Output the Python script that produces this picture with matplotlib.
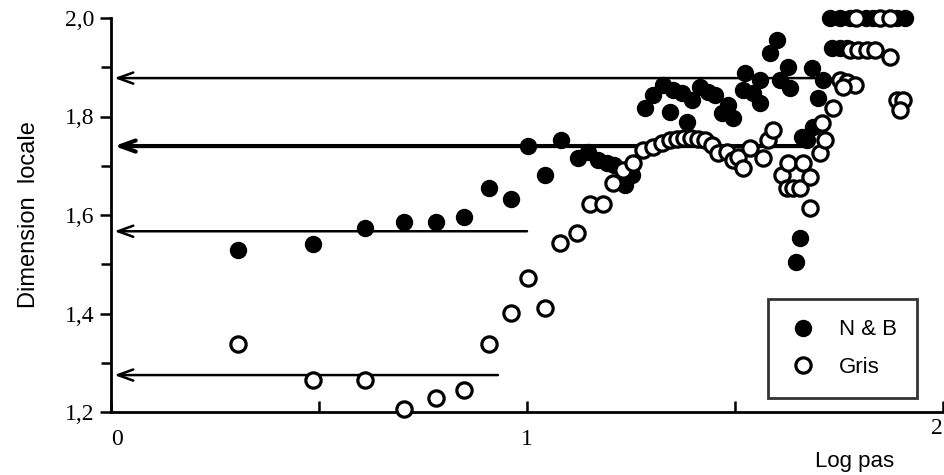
import matplotlib
matplotlib.use("Agg")
import matplotlib.pyplot as plt
from matplotlib.ticker import MultipleLocator, FixedLocator

# ---- data ----
nb_x = [0.305, 0.486, 0.611, 0.704, 0.781, 0.849, 0.909, 0.962, 1.002, 1.043,
        1.082, 1.123, 1.147, 1.171, 1.192, 1.209, 1.236, 1.252, 1.284, 1.303,
        1.327, 1.351, 1.373, 1.397, 1.416, 1.435, 1.452, 1.344, 1.385, 1.469,
        1.483, 1.495, 1.519, 1.524, 1.543, 1.560, 1.584, 1.601, 1.627, 1.632,
        1.608, 1.685, 1.700, 1.712, 1.688, 1.673, 1.661, 1.656, 1.647, 1.560,
        1.728, 1.752, 1.776, 1.815, 1.832, 1.889, 1.909,
        1.733, 1.752, 1.769]
nb_y = [1.529, 1.541, 1.574, 1.586, 1.586, 1.596, 1.655, 1.632, 1.740, 1.681,
        1.752, 1.716, 1.728, 1.712, 1.706, 1.702, 1.661, 1.681, 1.817, 1.844,
        1.864, 1.854, 1.848, 1.834, 1.860, 1.850, 1.844, 1.809, 1.789, 1.807,
        1.823, 1.797, 1.854, 1.888, 1.848, 1.874, 1.929, 1.955, 1.900, 1.858,
        1.874, 1.898, 1.838, 1.874, 1.779, 1.752, 1.758, 1.553, 1.505, 1.827,
        2.000, 2.000, 2.000, 2.000, 2.000, 2.000, 2.000,
        1.939, 1.939, 1.939]

gris_x = [0.305, 0.486, 0.611, 0.704, 0.781, 0.849, 0.909, 0.962, 1.002, 1.043,
          1.079, 1.120, 1.151, 1.183, 1.207, 1.231, 1.255, 1.279, 1.303, 1.325,
          1.344, 1.361, 1.377, 1.394, 1.411, 1.428, 1.445, 1.459, 1.481, 1.495,
          1.507, 1.519, 1.536, 1.567, 1.579, 1.591, 1.613, 1.627, 1.625, 1.639,
          1.656, 1.663, 1.680, 1.680, 1.704, 1.716, 1.709, 1.736, 1.752, 1.769,
          1.788, 1.760, 1.776, 1.796, 1.817, 1.837, 1.873, 1.791, 1.849, 1.873,
          1.889, 1.904, 1.897]
gris_y = [1.338, 1.265, 1.265, 1.206, 1.228, 1.245, 1.338, 1.401, 1.472, 1.411,
          1.543, 1.563, 1.622, 1.622, 1.665, 1.691, 1.706, 1.732, 1.738, 1.746,
          1.752, 1.754, 1.756, 1.756, 1.754, 1.752, 1.742, 1.726, 1.728, 1.712,
          1.718, 1.695, 1.736, 1.716, 1.752, 1.773, 1.681, 1.706, 1.655, 1.655,
          1.655, 1.706, 1.677, 1.614, 1.726, 1.752, 1.787, 1.817, 1.874, 1.870,
          1.864, 1.860, 1.935, 1.935, 1.935, 1.935, 1.921, 2.000, 2.000, 2.000,
          1.834, 1.834, 1.813]

arrow_levels = [1.878, 1.740, 1.567, 1.275]
arrow_ends = [1.73, 1.67, 1.00, 0.93]
arrow_widths = [1.8, 3.0, 1.8, 1.8]

y_ticks = [1.2, 1.4, 1.6, 1.8, 2.0]
y_labels = ["1,2", "1,4", "1,6", "1,8", "2,0"]
x_labels = ["0", "1", "2"]

# ---- figure ----
fig = plt.figure(figsize=(9.45, 4.75), dpi=100)
ax = fig.add_axes([111/945, 1 - 412/475, 832/945, 394/475])
ax.set_xlim(0, 2)
ax.set_ylim(1.2, 2.0)

for lvl, xe, lw in zip(arrow_levels, arrow_ends, arrow_widths):
    ax.annotate("", xy=(0.008, lvl), xytext=(xe, lvl),
                arrowprops=dict(arrowstyle="->,head_length=1.1,head_width=0.4",
                                lw=lw, color="black", shrinkA=0, shrinkB=0),
                zorder=2)

ax.plot(nb_x, nb_y, linestyle="none", marker="o", ms=11.5, mfc="black",
        mec="black", mew=1, zorder=3, label="N & B", clip_on=False)
ax.plot(gris_x, gris_y, linestyle="none", marker="o", ms=11, mfc="white",
        mec="black", mew=2.3, zorder=4, label="Gris", clip_on=False)

for s in ["top", "right"]:
    ax.spines[s].set_visible(False)
ax.spines["left"].set_linewidth(2)
ax.spines["bottom"].set_linewidth(2)

ax.yaxis.set_major_locator(FixedLocator(y_ticks))
ax.set_yticklabels(y_labels, fontfamily="Liberation Serif", fontsize=17)
ax.yaxis.set_minor_locator(MultipleLocator(0.1))
ax.tick_params(axis="y", which="major", direction="out", length=8, width=1.8, pad=4)
ax.tick_params(axis="y", which="minor", direction="out", length=7, width=1.8)

ax.xaxis.set_major_locator(FixedLocator([0, 1, 2]))
ax.set_xticklabels(x_labels, fontfamily="Liberation Serif", fontsize=17)
ax.xaxis.set_minor_locator(FixedLocator([0.5, 1.5]))
ax.tick_params(axis="x", which="major", direction="in", length=8, width=1.8, pad=12)
ax.tick_params(axis="x", which="minor", direction="in", length=8, width=1.8)
xl = ax.get_xticklabels()
xl[0].set_horizontalalignment("left")
xl[2].set_horizontalalignment("right")
xl[2].set_verticalalignment("center")

ax.set_ylabel("Dimension  locale", fontfamily="Liberation Sans", fontsize=17, labelpad=18)
fig.text(855/945, 1 - 462/475, "Log pas", fontfamily="Liberation Sans",
         fontsize=16, ha="center", va="center")

leg = ax.legend(loc="lower right", frameon=True, fancybox=False,
                prop={"family": "Liberation Sans", "size": 16},
                handletextpad=0.9, borderpad=0.9, labelspacing=0.75,
                handlelength=1.4, borderaxespad=0)
leg.set_bbox_to_anchor((917/945, 1 - 398/475), transform=fig.transFigure)
leg.get_frame().set_edgecolor("black")
leg.get_frame().set_linewidth(2)

fig.savefig("out.png", dpi=100)
